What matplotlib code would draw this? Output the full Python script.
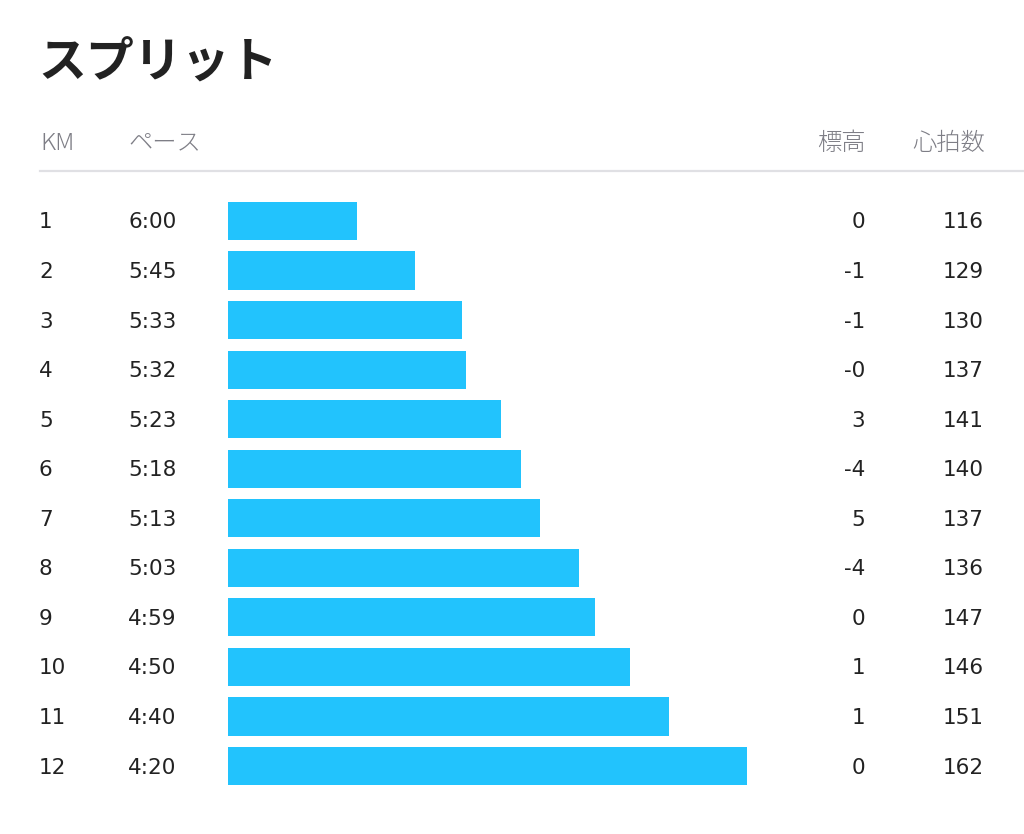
import matplotlib
matplotlib.use('Agg')
import matplotlib.pyplot as plt

plt.rcParams['font.family'] = ['Noto Sans CJK JP', 'DejaVu Sans']

km = [1, 2, 3, 4, 5, 6, 7, 8, 9, 10, 11, 12]
pace = ['6:00', '5:45', '5:33', '5:32', '5:23', '5:18', '5:13', '5:03', '4:59', '4:50', '4:40', '4:20']
elev = ['0', '-1', '-1', '-0', '3', '-4', '5', '-4', '0', '1', '1', '0']
hr = [116, 129, 130, 137, 141, 140, 137, 136, 147, 146, 151, 162]

headers = ['KM', 'ペース', '標高', '心拍数']

BAR = '#22c3fd'
DARK = '#222222'
GREY = '#7e7e86'
NUM = ['DejaVu Sans']

# pace in seconds; bars grow as the pace gets faster
secs = [int(p.split(':')[0]) * 60 + int(p.split(':')[1]) for p in pace]
base = 393
widths = [base - s for s in secs]

W, H = 1024, 834
fig = plt.figure(figsize=(W / 100, H / 100), dpi=100)
fig.patch.set_facecolor('white')

# axes spans full height; rows placed in data units (km)
row0, step = 221, 49.55
ax = fig.add_axes([228 / W, 0, (W - 228) / W, 1])
ax.barh(km, widths, height=0.77, color=BAR, left=0)
ax.set_xlim(0, (W - 228) / 3.9)
ax.set_ylim(1 + (H - row0) / step, 1 - row0 / step)
ax.axis('off')


def fy(p):
    return 1 - p / H


def fx(p):
    return p / W


fig.text(fx(38), fy(63), 'スプリット', fontsize=34.5, fontweight='bold',
         color=DARK, va='center', ha='left')

hy = fy(143)
fig.text(fx(40), hy, headers[0], fontsize=17.5, color=GREY, va='center', ha='left', fontweight='light')
fig.text(fx(128), hy, headers[1], fontsize=17.5, color=GREY, va='center', ha='left', fontweight='light')
fig.text(fx(866), hy, headers[2], fontsize=17.5, color=GREY, va='center', ha='right', fontweight='light')
fig.text(fx(985), hy, headers[3], fontsize=17.5, color=GREY, va='center', ha='right', fontweight='light')

fig.add_artist(plt.Line2D([fx(40), 1], [fy(171), fy(171)], color='#e0e0e4', lw=1.6))

for i, k in enumerate(km):
    y = fy(row0 + 1.5 + i * step)
    kw = dict(fontsize=15.5, color=DARK, va='center', family=NUM)
    fig.text(fx(39), y, str(k), ha='left', **kw)
    fig.text(fx(128), y, pace[i], ha='left', **kw)
    fig.text(fx(865), y, elev[i], ha='right', **kw)
    fig.text(fx(984), y, str(hr[i]), ha='right', **kw)

fig.savefig('out.png', dpi=100, facecolor='white')
